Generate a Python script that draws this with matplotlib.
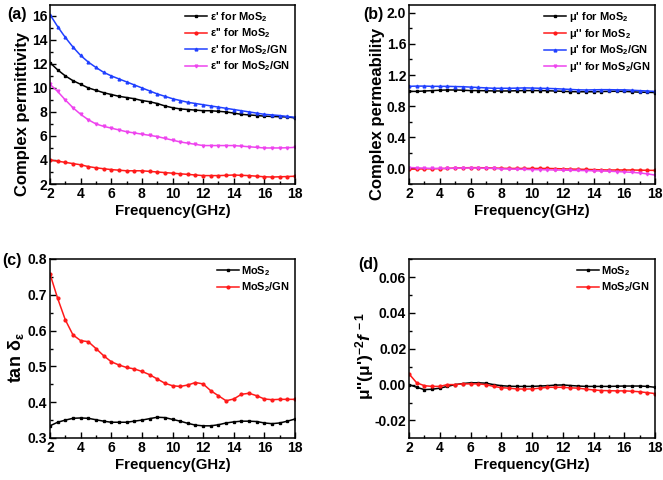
import matplotlib
matplotlib.use("Agg")
import matplotlib.pyplot as plt
from matplotlib.ticker import MultipleLocator, AutoMinorLocator, FormatStrFormatter

plt.rcParams['font.family'] = ['Liberation Sans', 'DejaVu Sans']
plt.rcParams['font.weight'] = 'bold'
plt.rcParams['mathtext.fontset'] = 'custom'
plt.rcParams['mathtext.rm'] = 'Liberation Sans:bold'
plt.rcParams['mathtext.bf'] = 'Liberation Sans:bold'
plt.rcParams['mathtext.it'] = 'Liberation Sans:italic'
plt.rcParams['mathtext.default'] = 'bf'

freq = [2, 2.5, 3, 3.5, 4, 4.5, 5, 5.5, 6, 6.5, 7, 7.5, 8, 8.5, 9, 9.5, 10,
        10.5, 11, 11.5, 12, 12.5, 13, 13.5, 14, 14.5, 15, 15.5, 16, 16.5, 17, 17.5, 18]

# (a) complex permittivity
eps1_mos2 = [12.1, 11.5, 11.0, 10.6, 10.3, 10.0, 9.8, 9.6, 9.45, 9.3, 9.2, 9.1, 8.95, 8.85, 8.7, 8.5,
             8.35, 8.25, 8.2, 8.15, 8.1, 8.1, 8.05, 8.0, 7.9, 7.8, 7.75, 7.7, 7.65, 7.62, 7.6, 7.58, 7.5]
eps2_mos2 = [4.0, 3.9, 3.8, 3.7, 3.6, 3.45, 3.35, 3.27, 3.2, 3.15, 3.1, 3.1, 3.1, 3.05, 3.0, 2.95,
             2.9, 2.85, 2.8, 2.75, 2.7, 2.7, 2.7, 2.72, 2.75, 2.72, 2.7, 2.65, 2.6, 2.58, 2.6, 2.62, 2.65]
eps1_gn = [16.1, 15.1, 14.2, 13.4, 12.7, 12.15, 11.7, 11.3, 11.0, 10.75, 10.5, 10.25, 10.0, 9.75, 9.5, 9.3,
           9.1, 8.95, 8.8, 8.7, 8.6, 8.5, 8.4, 8.3, 8.2, 8.1, 8.0, 7.9, 7.8, 7.75, 7.7, 7.62, 7.55]
eps2_gn = [10.3, 9.7, 9.0, 8.35, 7.8, 7.35, 7.0, 6.8, 6.65, 6.5, 6.35, 6.25, 6.15, 6.05, 5.95, 5.8,
           5.65, 5.5, 5.4, 5.3, 5.2, 5.2, 5.2, 5.2, 5.2, 5.15, 5.1, 5.05, 5.0, 5.0, 5.0, 5.02, 5.05]

# (b) complex permeability
mu1_mos2 = [0.99, 0.99, 0.995, 1.0, 1.005, 1.008, 1.008, 1.005, 1.0, 1.0, 0.998, 0.996, 0.995, 0.996,
            0.998, 1.0, 1.0, 1.0, 0.998, 0.995, 0.99, 0.987, 0.985, 0.985, 0.985, 0.988, 0.99, 0.992,
            0.99, 0.985, 0.98, 0.978, 0.975]
mu2_mos2 = [-0.01, -0.008, -0.005, -0.005, -0.002, 0.0, 0.005, 0.008, 0.01, 0.01, 0.008, 0.005, 0.002,
            0.0, 0.0, 0.0, 0.0, 0.0, 0.0, -0.002, -0.005, -0.008, -0.01, -0.012, -0.015, -0.018, -0.02,
            -0.02, -0.02, -0.02, -0.022, -0.024, -0.025]
mu1_gn = [1.055, 1.058, 1.058, 1.055, 1.055, 1.055, 1.052, 1.05, 1.045, 1.04, 1.035, 1.03, 1.03, 1.03,
          1.032, 1.035, 1.033, 1.03, 1.028, 1.025, 1.02, 1.015, 1.01, 1.008, 1.01, 1.012, 1.012, 1.01,
          1.01, 1.005, 1.0, 0.995, 0.99]
mu2_gn = [0.012, 0.008, 0.004, 0.0, 0.0, 0.0, 0.003, 0.005, 0.006, 0.005, 0.003, 0.0, -0.005, -0.008,
          -0.01, -0.012, -0.015, -0.016, -0.018, -0.02, -0.022, -0.024, -0.026, -0.028, -0.03, -0.033,
          -0.036, -0.04, -0.045, -0.05, -0.058, -0.07, -0.085]

# (c) dielectric loss tangent
tan_mos2 = [0.334, 0.344, 0.350, 0.355, 0.356, 0.355, 0.351, 0.347, 0.344, 0.344, 0.344, 0.347, 0.350,
            0.354, 0.358, 0.357, 0.352, 0.347, 0.341, 0.336, 0.334, 0.334, 0.337, 0.342, 0.345, 0.347,
            0.347, 0.346, 0.342, 0.340, 0.342, 0.347, 0.353]
tan_gn = [0.758, 0.690, 0.630, 0.588, 0.572, 0.569, 0.550, 0.530, 0.513, 0.504, 0.497, 0.493, 0.486,
          0.477, 0.465, 0.453, 0.446, 0.444, 0.448, 0.455, 0.451, 0.432, 0.418, 0.404, 0.409, 0.422,
          0.425, 0.418, 0.409, 0.407, 0.408, 0.408, 0.408]

# (d) eddy current
c0_mos2 = [0.0, -0.0015, -0.0028, -0.0026, -0.002, -0.001, 0.0, 0.0006, 0.001, 0.001, 0.0008, 0.0,
           -0.0006, -0.0009, -0.001, -0.001, -0.001, -0.0008, -0.0006, -0.0003, -0.0002, -0.0005,
           -0.0008, -0.001, -0.001, -0.001, -0.001, -0.0009, -0.0008, -0.0008, -0.0008, -0.001, -0.0015]
c0_gn = [0.006, 0.001, -0.0006, -0.001, -0.001, 0.0, 0.0, 0.0004, 0.0004, 0.0004, 0.0, -0.001, -0.0017,
         -0.002, -0.0024, -0.0025, -0.0024, -0.002, -0.0015, -0.0015, -0.0015, -0.0018, -0.002, -0.0025,
         -0.003, -0.0033, -0.0034, -0.0035, -0.0035, -0.0037, -0.004, -0.0045, -0.005]

BLACK, RED, BLUE, MAG = '#000000', '#ff1a1a', '#2040ff', '#ee44ee'

W, H = 663, 480
fig = plt.figure(figsize=(W / 100, H / 100), dpi=100)

def ax_at(l, t, r, b):
    return fig.add_axes([l / W, 1 - b / H, (r - l) / W, (b - t) / H])

kw = dict(lw=1.1, ms=2.0)
legkw = dict(loc='upper right', frameon=False, handlelength=2.0,
             handletextpad=0.25, labelspacing=0.25, borderaxespad=0.15, borderpad=0.3,
             prop={'weight': 'bold', 'size': 7.9})

# (a)
axa = ax_at(50, 5, 295, 184)
axa.plot(freq, eps1_mos2, color=BLACK, marker='s', label="ε' for MoS$_2$", **kw)
axa.plot(freq, eps2_mos2, color=RED, marker='o', label="ε'' for MoS$_2$", **kw)
axa.plot(freq, eps1_gn, color=BLUE, marker='^', label="ε' for MoS$_2$/GN", **kw)
axa.plot(freq, eps2_gn, color=MAG, marker='v', label="ε'' for MoS$_2$/GN", **kw)
axa.legend(**legkw)

# (b)
axb = ax_at(409, 5, 655, 184)
axb.plot(freq, mu1_mos2, color=BLACK, marker='s', label="μ' for MoS$_2$", **kw)
axb.plot(freq, mu2_mos2, color=RED, marker='o', label="μ'' for MoS$_2$", **kw)
axb.plot(freq, mu1_gn, color=BLUE, marker='^', label="μ' for MoS$_2$/GN", **kw)
axb.plot(freq, mu2_gn, color=MAG, marker='v', label="μ'' for MoS$_2$/GN", **kw)
axb.legend(**legkw)

# (c)
axc = ax_at(50, 259, 295, 438)
axc.plot(freq, tan_mos2, color=BLACK, marker='s', label="MoS$_2$", **kw)
axc.plot(freq, tan_gn, color=RED, marker='o', label="MoS$_2$/GN", **kw)
axc.legend(**legkw)

# (d)
axd = ax_at(409, 259, 655, 438)
axd.plot(freq, c0_mos2, color=BLACK, marker='s', label="MoS$_2$", **kw)
axd.plot(freq, c0_gn, color=RED, marker='o', label="MoS$_2$/GN", **kw)
axd.legend(**legkw)

specs = [
    (axa, 'Complex permittivity', 12, 2, (2, 16.9), 0.39, None, 7, 14, '(a)'),
    (axb, 'Complex permeability', 12, 0.4, (-0.2, 2.1), 0.39, '%.1f', 363, 14, '(b)'),
    (axc, 'tan δ$_ε$', 13, 0.1, (0.3, 0.8), 0.45, '%.1f', 2, 261, '(c)'),
    (axd, "μ''(μ')$^{-2}$$\\mathit{f}^{\\,-1}$", 12.5, 0.02, (-0.0298, 0.0701), 0.46, '%.2f', 358, 265, '(d)'),
]
for ax, ylabel, ysz, ymaj, ylim, ly, fmt, px, py, tag in specs:
    ax.set_xlim(2, 18)
    ax.set_ylim(*ylim)
    ax.xaxis.set_major_locator(MultipleLocator(2))
    ax.xaxis.set_minor_locator(AutoMinorLocator(2))
    ax.yaxis.set_major_locator(MultipleLocator(ymaj))
    ax.yaxis.set_minor_locator(AutoMinorLocator(2))
    if fmt:
        ax.yaxis.set_major_formatter(FormatStrFormatter(fmt))
    ax.tick_params(which='both', direction='in', top=False, right=False, labelsize=10, width=1.0)
    ax.tick_params(which='major', length=4, pad=2)
    ax.tick_params(which='minor', length=2)
    plt.setp(ax.get_xticklabels() + ax.get_yticklabels(), fontweight='heavy')
    for s in ax.spines.values():
        s.set_linewidth(1.1)
    ax.set_xlabel('Frequency(GHz)', fontsize=10.8, fontweight='bold', labelpad=2)
    ax.set_ylabel(ylabel, fontsize=ysz, fontweight='bold', labelpad=1)
    ax.yaxis.label.set_y(ly)
    fig.text(px / W, 1 - py / H, tag, fontsize=11.5, fontweight='bold', va='center')

axd.yaxis.set_label_coords(-0.135, 0.46)

fig.savefig('out.png', dpi=100)
